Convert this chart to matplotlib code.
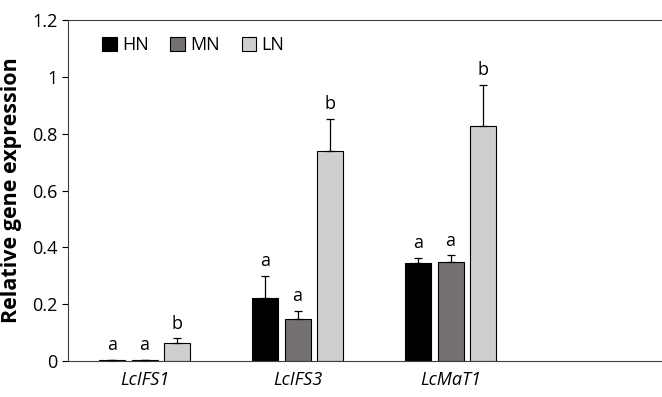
import matplotlib
matplotlib.use("Agg")
import matplotlib.pyplot as plt
import numpy as np

genes = ["LcIFS1", "LcIFS3", "LcMaT1"]
series = ["HN", "MN", "LN"]
colors = ["#000000", "#767171", "#d0cece"]

values = {
    "HN": [0.005, 0.223, 0.344],
    "MN": [0.005, 0.147, 0.349],
    "LN": [0.062, 0.739, 0.827],
}
errors = {
    "HN": [0.0, 0.076, 0.019],
    "MN": [0.0, 0.030, 0.023],
    "LN": [0.018, 0.114, 0.146],
}
letters = {
    "HN": ["a", "a", "a"],
    "MN": ["a", "a", "a"],
    "LN": ["b", "b", "b"],
}

plt.rcParams["font.family"] = ["Open Sans", "DejaVu Sans"]

fig = plt.figure(figsize=(6.62, 3.97), dpi=100)
ax = fig.add_axes([68 / 662, 1 - 361 / 397, 1 - 68 / 662, 341 / 397])

x = np.arange(len(genes))
width = 26 / 153
step = 32.5 / 153
for i, s in enumerate(series):
    xs = x + (i - 1) * step
    ax.bar(xs, values[s], width, color=colors[i], edgecolor="black",
           linewidth=0.8, label=s, zorder=2)
    ax.errorbar(xs, values[s], yerr=[np.zeros(len(genes)), errors[s]],
                fmt="none", ecolor="black", elinewidth=0.9, capsize=3,
                capthick=0.9, zorder=3)
    for xi, v, e, t in zip(xs, values[s], errors[s], letters[s]):
        ax.text(xi, v + e + 0.02, t, ha="center", va="bottom", fontsize=13)

ax.set_xlim(-0.5, (662 - 68) / 153 - 0.5)
ax.set_ylim(0, 1.2)
ax.set_yticks([0, 0.2, 0.4, 0.6, 0.8, 1.0, 1.2])
ax.set_yticklabels(["0", "0.2", "0.4", "0.6", "0.8", "1", "1.2"], fontsize=13)
ax.set_xticks(x)
ax.set_xticklabels(genes, fontsize=13, style="italic")
ax.tick_params(axis="x", length=0, pad=7)
ax.tick_params(axis="y", direction="out", length=4, width=0.8)
ax.set_ylabel("Relative gene expression", fontsize=15.5, fontweight="bold", labelpad=7)

for sp in ["left", "bottom", "top"]:
    ax.spines[sp].set_linewidth(0.8)
    ax.spines[sp].set_color("#404040")
ax.spines["right"].set_visible(False)

ax.legend(loc="upper left", ncol=3, frameon=False, fontsize=13,
          handlelength=0.8, handleheight=0.8, columnspacing=1.2,
          handletextpad=0.3, bbox_to_anchor=(0.03, 1.0))

fig.savefig("out.png", dpi=100)
